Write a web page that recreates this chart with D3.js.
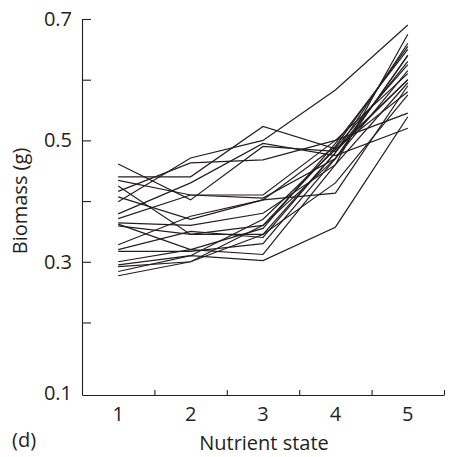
<!DOCTYPE html>
<html>
<head>
<meta charset="utf-8">
<script src="https://cdn.jsdelivr.net/npm/d3@7"></script>
<style>
  body { margin: 0; background: #fff; }
  svg { display: block; font-family: "Open Sans", "DejaVu Sans", sans-serif; }
</style>
</head>
<body>
<div id="chart"></div>
<script>
// nutrient states on the x axis
const states = [1, 2, 3, 4, 5];

// biomass (g) of each individual across the five nutrient states
const plant01 = [0.461, 0.402, 0.490, 0.482, 0.600];
const plant02 = [0.440, 0.440, 0.523, 0.486, 0.580];
const plant03 = [0.399, 0.471, 0.500, 0.583, 0.690];
const plant04 = [0.416, 0.463, 0.468, 0.500, 0.545];
const plant05 = [0.434, 0.410, 0.405, 0.470, 0.640];
const plant06 = [0.425, 0.345, 0.345, 0.480, 0.630];
const plant07 = [0.407, 0.370, 0.402, 0.490, 0.655];
const plant08 = [0.379, 0.430, 0.495, 0.475, 0.520];
const plant09 = [0.371, 0.410, 0.410, 0.500, 0.610];
const plant10 = [0.364, 0.360, 0.380, 0.460, 0.675];
const plant11 = [0.359, 0.345, 0.360, 0.488, 0.625];
const plant12 = [0.328, 0.375, 0.402, 0.413, 0.590];
const plant13 = [0.320, 0.350, 0.340, 0.480, 0.660];
const plant14 = [0.317, 0.317, 0.330, 0.470, 0.615];
const plant15 = [0.300, 0.320, 0.355, 0.495, 0.650];
const plant16 = [0.295, 0.310, 0.370, 0.485, 0.600];
const plant17 = [0.292, 0.300, 0.360, 0.470, 0.640];
const plant18 = [0.284, 0.310, 0.302, 0.357, 0.539];
const plant19 = [0.277, 0.300, 0.345, 0.430, 0.575];
const plant20 = [0.362, 0.320, 0.312, 0.460, 0.595];

const plants = [plant01, plant02, plant03, plant04, plant05, plant06, plant07,
    plant08, plant09, plant10, plant11, plant12, plant13, plant14, plant15,
    plant16, plant17, plant18, plant19, plant20];

// axis ticks
const yTicks = [0.2, 0.3, 0.4, 0.5, 0.6, 0.7];
const yLabelled = [0.3, 0.5, 0.7];
const xTicks = [1.5, 2.5, 3.5, 4.5, 5.5];

const width = 449;
const height = 457;
const margin = { top: 19, right: 5, bottom: 62, left: 82 };
const innerWidth = width - margin.left - margin.right;
const innerHeight = height - margin.top - margin.bottom;
const fontSize = "20px";
const ink = "#231f20";

const svg = d3.select("#chart")
    .append("svg")
    .attr("width", width)
    .attr("height", height)
    .append("g")
    .attr("transform", `translate(${margin.left}, ${margin.top})`);

const xScale = d3.scaleLinear()
    .domain([0.5, 5.5])
    .range([0, innerWidth]);

const yScale = d3.scaleLinear()
    .domain([0.0805, 0.7])
    .range([innerHeight, 0]);

// y axis, ticks pointing inward
const yAxis = d3.axisLeft(yScale)
    .tickValues(yTicks)
    .tickSizeInner(-9)
    .tickSizeOuter(0)
    .tickFormat("");

svg.append("g")
    .attr("class", "axis-y")
    .call(yAxis)
    .call(g => g.selectAll(".tick text").remove());

// x axis, ticks between the states
const xAxis = d3.axisBottom(xScale)
    .tickValues(xTicks)
    .tickSizeInner(-5)
    .tickSizeOuter(0)
    .tickFormat("");

svg.append("g")
    .attr("class", "axis-x")
    .attr("transform", `translate(0, ${innerHeight})`)
    .call(xAxis)
    .call(g => g.selectAll(".tick text").remove());

svg.selectAll(".axis-x, .axis-y")
    .selectAll("path, line")
    .attr("stroke", ink)
    .attr("stroke-width", 1.1);

// y tick labels, every other tick, plus 0.1 at the foot of the axis
svg.selectAll(".y-label")
    .data(yLabelled)
    .enter()
    .append("text")
    .attr("class", "y-label")
    .attr("x", -10)
    .attr("y", d => yScale(d))
    .attr("dy", "0.35em")
    .attr("text-anchor", "end")
    .style("font-size", fontSize)
    .attr("fill", ink)
    .text(d3.format(".1f"));

svg.append("text")
    .attr("x", -10)
    .attr("y", innerHeight - 2)
    .attr("dy", "0.35em")
    .attr("text-anchor", "end")
    .style("font-size", fontSize)
    .attr("fill", ink)
    .text("0.1");

// state labels under the axis
svg.selectAll(".x-label")
    .data(states)
    .enter()
    .append("text")
    .attr("class", "x-label")
    .attr("x", d => xScale(d))
    .attr("y", innerHeight + 26)
    .attr("text-anchor", "middle")
    .style("font-size", fontSize)
    .attr("fill", ink)
    .text(d3.format("d"));

// one line per plant
const line = d3.line()
    .x((d, i) => xScale(states[i]))
    .y(d => yScale(d));

svg.selectAll(".plant")
    .data(plants)
    .enter()
    .append("path")
    .attr("class", "plant")
    .attr("d", line)
    .attr("fill", "none")
    .attr("stroke", ink)
    .attr("stroke-width", 1.2)
    .attr("stroke-linejoin", "miter");

// Add y-axis label
svg.append("text")
    .attr("transform", "rotate(-90)")
    .attr("x", -(201 - margin.top))
    .attr("y", -margin.left + 27)
    .attr("text-anchor", "middle")
    .style("font-size", fontSize)
    .attr("fill", ink)
    .text("Biomass (g)");

// Add x-axis label
svg.append("text")
    .attr("x", 264 - margin.left)
    .attr("y", 450 - margin.top)
    .attr("text-anchor", "middle")
    .style("font-size", fontSize)
    .attr("fill", ink)
    .text("Nutrient state");

// panel letter
svg.append("text")
    .attr("x", 12 - margin.left)
    .attr("y", 447 - margin.top)
    .style("font-size", fontSize)
    .attr("fill", ink)
    .text("(d)");
</script>
</body>
</html>
